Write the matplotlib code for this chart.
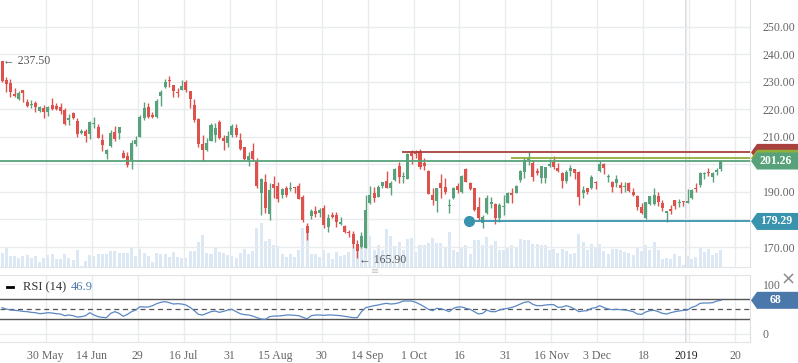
import numpy as np
import matplotlib
matplotlib.use("Agg")
import matplotlib.pyplot as plt
from matplotlib.patches import Polygon
from matplotlib.lines import Line2D
from matplotlib.transforms import IdentityTransform

plt.rcParams["font.family"] = ["Liberation Serif", "DejaVu Sans"]

# ---- data --------------------------------------------------------------
opens = [237.5, 230.7, 229.7, 225.6, 223.7, 227.1, 222.8, 221.6, 222.3, 219.4,
         220.6, 219.2, 221.6, 221.4, 221.0, 219.8, 216.0, 218.8, 215.9, 211.4,
         212.2, 211.1, 214.7, 213.7, 208.9, 203.8, 206.8, 211.7, 211.3, 204.2,
         203.1, 201.6, 207.4, 210.1, 217.0, 221.0, 218.0, 217.4, 225.0, 228.1,
         230.8, 228.9, 226.3, 227.1, 230.1, 226.7, 221.6, 216.5, 207.4, 205.3,
         208.5, 210.7, 215.3, 209.7, 207.7, 210.7, 213.4, 208.9, 206.2, 201.6,
         204.9, 201.3, 189.7, 193.7, 182.0, 192.8, 192.2, 188.9, 191.6, 191.0,
         191.9, 192.2, 188.3, 177.6, 181.4, 183.1, 182.5, 184.0, 177.4, 181.6,
         181.6, 178.4, 177.6, 175.6, 174.7, 171.1, 169.9, 169.7, 185.9, 189.7,
         188.3, 192.3, 194.0, 191.3, 194.4, 199.4, 195.5, 194.7, 204.3, 204.6,
         204.9, 200.4, 197.7, 188.9, 186.9, 193.4, 191.8, 184.9, 187.7, 192.2,
         189.9, 198.4, 193.4, 191.3, 184.6, 178.8, 182.2, 185.5, 185.6, 180.4,
         184.6, 186.1, 189.5, 189.7, 194.4, 197.4, 201.6, 200.4, 197.6, 195.2,
         195.2, 199.5, 201.0, 198.6, 197.0, 194.0, 197.6, 198.2, 197.4, 189.7,
         191.3, 191.3, 193.7, 197.6, 200.2, 195.5, 193.7, 193.4, 192.5, 191.9,
         193.1, 190.1, 188.5, 184.6, 180.4, 185.5, 185.6, 188.5, 185.9, 182.2,
         183.8, 187.1, 185.9, 186.7, 185.9, 187.7, 191.6, 192.5, 196.5, 197.1,
         195.6, 197.4, 198.2]
highs = [237.5, 231.9, 231.1, 227.7, 226.7, 227.1, 223.8, 223.4, 223.1, 221.4,
         221.6, 221.4, 224.3, 222.2, 222.2, 220.6, 218.2, 219.2, 216.8, 212.9,
         212.9, 215.8, 217.4, 214.7, 211.0, 205.6, 212.5, 214.0, 213.6, 205.3,
         204.6, 208.9, 210.5, 218.0, 222.8, 222.2, 219.2, 223.8, 227.1, 231.1,
         232.3, 228.9, 227.7, 230.7, 230.7, 226.7, 223.8, 216.8, 210.7, 209.7,
         215.0, 215.0, 216.2, 210.7, 212.2, 214.6, 214.6, 211.3, 206.5, 204.6,
         207.7, 202.2, 195.2, 196.5, 193.1, 195.8, 193.7, 191.6, 192.3, 193.7,
         191.9, 193.4, 188.9, 178.6, 183.7, 185.0, 184.0, 185.3, 181.9, 182.8,
         182.8, 180.8, 178.0, 176.2, 175.8, 172.5, 175.6, 188.9, 192.3, 191.9,
         192.5, 193.7, 197.6, 194.0, 198.8, 201.0, 197.4, 204.1, 205.3, 205.3,
         205.6, 202.5, 198.0, 191.6, 191.6, 196.4, 195.0, 187.4, 191.9, 193.4,
         196.2, 198.8, 193.7, 191.6, 188.3, 181.6, 188.9, 188.3, 185.9, 185.9,
         188.9, 190.1, 191.3, 192.5, 198.0, 202.8, 204.4, 201.6, 198.8, 199.4,
         199.2, 202.0, 203.1, 200.4, 197.4, 198.0, 199.8, 198.2, 197.8, 192.2,
         191.6, 196.2, 194.0, 201.3, 200.7, 196.5, 194.1, 196.2, 193.7, 193.7,
         193.7, 191.6, 188.9, 185.9, 186.5, 188.5, 191.3, 189.9, 187.1, 183.1,
         185.3, 187.1, 187.4, 186.7, 191.0, 191.0, 193.1, 197.4, 197.4, 198.6,
         197.2, 198.6, 201.3]
lows = [230.0, 226.5, 224.7, 224.7, 223.4, 222.8, 221.0, 220.6, 219.0, 219.2,
        217.0, 217.7, 219.8, 219.8, 218.2, 214.3, 214.3, 216.5, 210.1, 211.2,
        208.3, 209.3, 213.4, 209.5, 205.0, 202.0, 206.5, 208.5, 209.3, 202.2,
        199.2, 198.3, 206.8, 210.1, 216.2, 216.8, 216.8, 216.8, 221.4, 227.7,
        228.1, 224.7, 224.7, 227.1, 226.5, 220.4, 215.6, 206.5, 201.3, 204.9,
        208.5, 208.3, 209.3, 205.3, 206.2, 210.1, 210.1, 205.3, 201.6, 199.6,
        201.3, 191.3, 181.6, 182.2, 179.8, 187.7, 186.5, 187.9, 188.3, 190.3,
        189.5, 187.5, 179.2, 172.5, 180.2, 181.0, 181.0, 177.0, 175.6, 180.4,
        177.4, 178.0, 175.0, 173.7, 169.8, 165.9, 169.5, 169.5, 185.5, 186.5,
        188.3, 191.3, 191.3, 188.9, 194.0, 193.4, 193.4, 194.7, 200.0, 202.2,
        198.2, 198.0, 189.1, 185.3, 182.6, 187.9, 189.1, 182.2, 187.4, 189.5,
        189.5, 193.5, 190.7, 183.1, 179.8, 177.0, 181.9, 184.3, 178.2, 179.2,
        181.6, 185.9, 185.9, 189.5, 193.7, 195.2, 199.8, 194.0, 196.2, 193.1,
        193.1, 199.2, 198.4, 197.4, 191.6, 193.4, 195.9, 194.7, 185.3, 187.9,
        189.1, 191.0, 191.0, 197.4, 196.5, 193.7, 190.1, 191.9, 189.7, 190.1,
        190.1, 188.5, 183.4, 182.0, 180.0, 185.3, 185.3, 185.0, 183.1, 179.0,
        182.0, 183.8, 184.6, 185.0, 185.9, 187.4, 190.1, 191.9, 194.7, 195.9,
        193.7, 196.2, 197.6]
closes = [230.3, 229.3, 226.5, 225.0, 226.1, 226.1, 221.3, 222.1, 220.9, 221.0,
          219.2, 220.9, 220.2, 220.2, 219.6, 214.6, 216.8, 216.8, 211.1, 212.2,
          210.3, 215.3, 214.9, 209.7, 207.1, 205.3, 211.3, 209.3, 213.6, 202.2,
          199.8, 207.8, 208.9, 217.4, 220.6, 217.3, 217.3, 223.1, 226.5, 230.1,
          230.5, 226.8, 225.9, 228.5, 227.1, 223.7, 216.2, 207.3, 205.3, 207.7,
          214.3, 213.1, 209.5, 208.5, 210.3, 214.1, 210.7, 205.6, 202.0, 203.1,
          202.0, 192.3, 194.7, 184.1, 190.7, 191.3, 187.5, 191.1, 188.9, 191.2,
          191.6, 187.5, 179.8, 175.2, 183.2, 182.1, 183.4, 178.0, 180.7, 180.9,
          179.2, 179.2, 175.3, 175.0, 171.1, 168.5, 174.0, 183.4, 188.9, 187.9,
          191.9, 193.7, 191.3, 193.4, 198.4, 195.6, 195.7, 203.7, 203.2, 203.7,
          199.2, 199.4, 189.3, 187.0, 191.3, 191.3, 189.9, 185.0, 191.6, 190.7,
          195.9, 193.8, 191.0, 183.4, 180.4, 180.8, 187.7, 186.5, 180.4, 185.3,
          184.9, 189.7, 188.9, 192.2, 197.6, 201.6, 202.2, 195.6, 196.8, 199.4,
          199.2, 200.0, 199.2, 197.6, 194.0, 197.4, 198.9, 197.0, 188.3, 190.7,
          189.9, 195.3, 193.4, 200.0, 198.8, 195.8, 191.9, 194.7, 191.6, 192.2,
          190.3, 188.9, 184.6, 182.2, 186.5, 188.5, 188.9, 186.5, 184.3, 183.1,
          183.2, 185.0, 186.5, 186.2, 186.7, 190.7, 191.1, 197.0, 197.0, 196.8,
          196.8, 198.0, 201.26]
volume = [41, 58, 33, 33, 28, 33, 36, 26, 33, 14, 26, 36, 38, 24, 24, 38, 26, 21,
          51, 4, 18, 36, 33, 38, 40, 38, 48, 48, 41, 41, 41, 59, 33, 54, 41, 33,
          14, 41, 38, 38, 31, 44, 31, 28, 26,
          48, 48, 74, 96, 41, 38, 60, 44, 41, 36, 33, 26, 41, 54, 38, 48, 118,
          131, 78, 84, 66, 63, 38, 31, 38, 31, 51, 118, 106, 38, 38, 31, 51, 41,
          24, 44, 33, 36, 46, 61, 68, 74, 96,
          93, 51, 66, 51, 114, 93, 63, 74, 51, 84, 88, 46, 66, 66, 71, 88, 71,
          71, 58, 104, 51, 46, 58, 66, 39, 81, 81, 66, 90, 66, 78, 51, 51, 56,
          66, 58, 84, 81, 81, 68, 68, 66, 66,
          51, 54, 43, 54, 48, 39, 41, 99, 74, 51, 69, 61, 69, 48, 39, 54, 54,
          51, 44, 41, 36, 60, 48, 66, 51, 74, 51, 24, 28, 24, 38, 33, 6, 33,
          24, 30, 60, 46, 54, 36, 42, 51]
rsi = [53.1, 50.4, 48.3, 47.7, 47.0, 45.6, 45.0, 43.6, 42.9, 40.9,
       41.6, 42.9, 42.2, 40.9, 40.2, 36.8, 38.2, 36.8, 34.1, 34.8,
       36.8, 42.9, 38.2, 34.8, 33.4, 32.8, 41.6, 45.0, 41.6, 35.5,
       39.5, 45.0, 48.3, 55.1, 54.4, 54.4, 57.1, 61.2, 63.9, 65.3,
       63.2, 60.5, 61.2, 60.5, 58.5, 53.7, 47.0, 39.5, 38.2, 41.6,
       45.0, 46.3, 43.6, 45.6, 48.3, 49.7, 45.0, 40.9, 38.9, 38.2,
       36.1, 32.8, 30.1, 29.4, 34.8, 36.1, 36.1, 36.8, 38.2, 38.2,
       37.5, 36.8, 33.4, 30.7, 36.8, 38.2, 38.2, 37.5, 38.2, 38.2,
       37.5, 36.8, 35.5, 34.1, 32.8, 32.8, 45.0, 53.1, 55.1, 57.1,
       58.5, 60.5, 61.9, 60.5, 61.2, 63.2, 66.6, 66.6, 66.6, 63.9,
       59.8, 55.1, 49.7, 47.0, 51.7, 51.0, 48.3, 45.0, 51.7, 54.4,
       54.4, 51.7, 49.7, 45.0, 40.2, 41.6, 48.3, 45.0, 45.0, 48.3,
       50.4, 51.7, 53.7, 56.5, 60.5, 63.9, 65.3, 59.8, 57.1, 57.1,
       58.5, 59.2, 59.2, 53.7, 54.4, 57.1, 54.4, 50.4, 45.0, 46.3,
       47.0, 51.7, 53.1, 57.1, 53.1, 50.4, 49.0, 49.7, 49.0, 48.3,
       47.0, 45.0, 40.2, 39.5, 44.3, 47.0, 47.7, 45.0, 41.6, 40.2,
       42.9, 45.0, 46.3, 47.7, 48.3, 53.7, 56.5, 61.9, 62.6, 62.6,
       63.2, 66.6, 68.0]

tick_pos = [10.45 + 11 * k for k in range(16)]
tick_labels = ["30 May", "14 Jun", "29", "16 Jul", "31", "15 Aug", "30", "14 Sep",
               "1 Oct", "16", "31", "16 Nov", "3 Dec", "18", "", "20"]
year_pos, year_label = 163.6, "2019"
price_ticks = [170, 180, 190, 200, 210, 220, 230, 240, 250]
hidden_ticks = [180, 200]   # covered by the level tags in the reference

last_price = 201.26
res_level, res_start = 204.4, 95.7        # dark red
res2_level, res2_start = 202.25, 121.8    # olive
sup_level, sup_start = 179.29, 111.7      # teal
hi_idx, hi_val = 0, 237.50
lo_idx, lo_val = 85, 165.90
rsi_head = "46.9"

UP, DOWN = "#57a27b", "#de524d"
GRID = "#e9ebee"

# ---- figure ----------------------------------------------------------------
W, H = 798, 363
fig = plt.figure(figsize=(W / 100, H / 100), dpi=100)
ax = fig.add_axes([0, (H - 267) / H, 750 / W, 267 / H])
axr = fig.add_axes([0, (H - 342) / H, 750 / W, 67 / H])

x = np.arange(len(closes))
o, h, l, c = map(np.array, (opens, highs, lows, closes))
cols = np.where(c >= o, UP, DOWN)

# volume in its own scale, behind the candles
axv = ax.twinx()
axv.bar(x, volume, width=0.72, color="#d9e6f2", alpha=0.9, zorder=1)
axv.set_ylim(0, 801)
axv.axis("off")
ax.set_zorder(axv.get_zorder() + 1)
ax.patch.set_visible(False)

ax.vlines(x, l, h, colors=cols, lw=1, zorder=3)
body = np.maximum(np.abs(c - o), 0.35)
ax.bar(x, body, bottom=np.minimum(o, c), width=0.72, color=cols, zorder=4)

ax.set_xlim(-0.48, 178.95)
ax.set_ylim(162.73, 259.8)

ax.axhline(last_price, color=UP, lw=1.3, zorder=5)
ax.hlines(res_level, res_start, 178.95, color="#a8403e", lw=1.3, zorder=5)
ax.hlines(res2_level, res2_start, 178.95, color="#8fae3c", lw=1.3, zorder=5)
ax.hlines(sup_level, sup_start, 178.95, color="#3a93ad", lw=1.3, zorder=5)
ax.plot(sup_start, sup_level, "o", ms=7, color="#3a93ad", zorder=6)

ax.annotate("\u2190 %.2f" % hi_val, xy=(hi_idx, hi_val), xytext=(1, 0),
            textcoords="offset points", ha="left", va="center",
            fontsize=8.5, color="#555555", zorder=7)
ax.annotate("\u2190 %.2f" % lo_val, xy=(lo_idx, lo_val), xytext=(1, -1),
            textcoords="offset points", ha="left", va="center",
            fontsize=8.5, color="#555555", zorder=7)

# axes styling
for a in (ax, axr):
    a.set_xticks(tick_pos + [year_pos])
    a.grid(axis="x", color=GRID, lw=1)
    a.axvline(year_pos, color="#cfd2d6", lw=1.2, zorder=0.5)
    for s in ("left", "top"):
        a.spines[s].set_visible(False)
    a.spines["right"].set_color("#dcdfe3")
    a.spines["bottom"].set_color("#e2e5e8")
    a.tick_params(length=0)

ax.set_xticklabels([])
ax.set_yticks(price_ticks)
ax.set_yticklabels(["" if v in hidden_ticks else "%.2f" % v for v in price_ticks])
ax.yaxis.tick_right()
ax.tick_params(axis="y", pad=9, labelsize=8.5, labelcolor="#666666")
ax.grid(axis="y", color=GRID, lw=1)
ax.set_axisbelow(True)

# RSI pane
axr.plot(x, rsi, color="#5b87c5", lw=0.9, zorder=3)
axr.axhline(70, color="#555555", lw=1)
axr.axhline(30, color="#555555", lw=1)
axr.axhline(50, color="#555555", lw=0.9, ls=(0, (4, 3)))
axr.set_ylim(-16.6, 119.4)
axr.set_xlim(-0.48, 178.95)
axr.set_yticks([0, 100])
axr.set_yticklabels(["0", "100"])
axr.yaxis.tick_right()
axr.tick_params(axis="y", pad=9, labelsize=8.5, labelcolor="#666666")
axr.axhline(0, color=GRID, lw=1, zorder=0)
axr.spines["top"].set_visible(True)
axr.spines["top"].set_color("#e2e5e8")
axr.set_xticklabels(tick_labels + [year_label])
axr.tick_params(axis="x", pad=6, labelsize=8.5, labelcolor="#666666")
axr.get_xticklabels()[-1].set_color("#222222")
axr.set_axisbelow(True)

fig.canvas.draw()


def tag(axis, level, text, color):
    yc = axis.transData.transform((0, level))[1]
    pts = [(751, yc), (757, yc + 8.5), (798, yc + 8.5), (798, yc - 8.5), (757, yc - 8.5)]
    fig.patches.append(Polygon(pts, closed=True, facecolor=color, edgecolor="none",
                               transform=IdentityTransform(), figure=fig))
    if text:
        fig.text(776, yc, text, transform=IdentityTransform(), color="white",
                 fontsize=8.5, fontweight="bold", ha="center", va="center")


tag(ax, res_level, "", "#a8403e")
tag(ax, res2_level, "", "#8fae3c")
tag(ax, last_price, "%.2f" % last_price, UP)
tag(ax, sup_level, "%.2f" % sup_level, "#3a93ad")
tag(axr, rsi[-1], "%d" % round(rsi[-1]), "#4a78ab")

# RSI header and small icons
fig.lines.append(Line2D([7, 13], [H - 287, H - 287], color="black", lw=2,
                        transform=IdentityTransform(), figure=fig))
fig.text(23, H - 287, "RSI (14)", transform=IdentityTransform(), fontsize=9,
         color="#333333", va="center")
fig.text(71, H - 287, rsi_head, transform=IdentityTransform(), fontsize=9,
         color="#4a78ab", va="center")
fig.text(788, H - 280, "\u00d7", transform=IdentityTransform(), fontsize=13,
         color="#888888", ha="center", va="center", family="DejaVu Sans")
fig.text(375, H - 271, "\u2261", transform=IdentityTransform(), fontsize=7,
         color="#c0c4c8", ha="center", va="center", family="DejaVu Sans")

fig.savefig("out.png", dpi=100)
